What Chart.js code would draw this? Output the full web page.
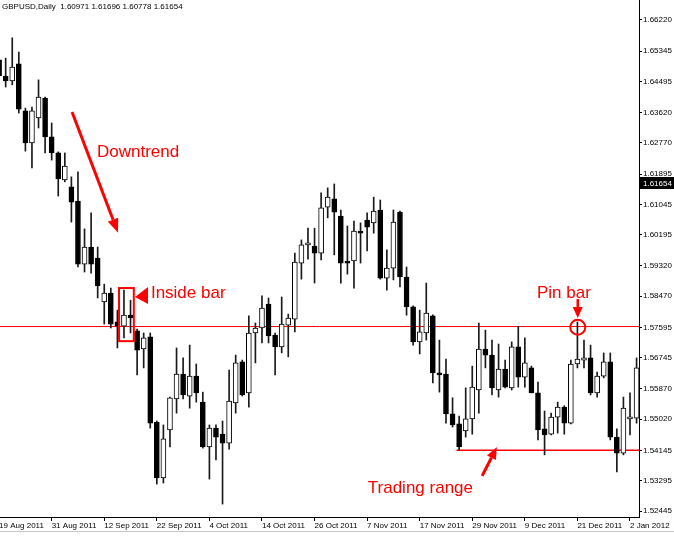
<!DOCTYPE html>
<html>
<head>
<meta charset="utf-8">
<title>GBPUSD Daily</title>
<script src="https://cdn.jsdelivr.net/npm/chart.js@4.4.1/dist/chart.umd.min.js"></script>
<style>
  html, body { margin: 0; padding: 0; background: #fff; }
  #wrap { width: 674px; height: 536px; }
</style>
</head>
<body>
<div id="wrap"><canvas id="chart" width="674" height="536"></canvas></div>
<script>
// header info
const symbol = 'GBPUSD';
const period = 'Daily';
const lastBar = ['1.60971', '1.61696', '1.60778', '1.61654'];
const lastPrice = 1.61654;

// daily bars, 19 Aug 2011 .. 3 Jan 2012
const opens = [
  1.6510, 1.6465, 1.6451, 1.6499, 1.6367, 1.6277, 1.6347, 1.6403, 1.6294, 1.6249,
  1.6173, 1.6154, 1.6114, 1.5937, 1.5985, 1.5954, 1.5831, 1.5856, 1.5775, 1.5763,
  1.5794, 1.5750, 1.5699, 1.5733, 1.5494, 1.5337, 1.5472, 1.5559, 1.5629, 1.5567,
  1.5623, 1.5550, 1.5424, 1.5477, 1.5460, 1.5435, 1.5548, 1.5663, 1.5576, 1.5744,
  1.5758, 1.5825, 1.5738, 1.5705, 1.5766, 1.5783, 1.5940, 1.5991, 1.5988, 1.5968,
  1.6097, 1.6120, 1.6072, 1.5946, 1.5946, 1.6030, 1.6061, 1.6053, 1.6089, 1.5898,
  1.5926, 1.6083, 1.5901, 1.5817, 1.5719, 1.5744, 1.5792, 1.5632, 1.5629, 1.5517,
  1.5489, 1.5469, 1.5503, 1.5584, 1.5699, 1.5682, 1.5584, 1.5643, 1.5590, 1.5705,
  1.5620, 1.5646, 1.5576, 1.5475, 1.5460, 1.5508, 1.5536, 1.5491, 1.5657, 1.5668,
  1.5674, 1.5576, 1.5623, 1.5663, 1.5452, 1.5407, 1.5503, 1.5505
];
const highs = [
  1.6521, 1.6515, 1.6572, 1.6532, 1.6375, 1.6378, 1.6454, 1.6406, 1.6333, 1.6252,
  1.6249, 1.6182, 1.6196, 1.6036, 1.6081, 1.5985, 1.5881, 1.5870, 1.5808, 1.5864,
  1.5836, 1.5755, 1.5744, 1.5744, 1.5497, 1.5486, 1.5564, 1.5702, 1.5674, 1.5710,
  1.5657, 1.5578, 1.5486, 1.5486, 1.5497, 1.5640, 1.5682, 1.5668, 1.5792, 1.5772,
  1.5848, 1.5842, 1.5744, 1.5845, 1.5797, 1.5968, 1.6005, 1.6038, 1.6038, 1.6137,
  1.6151, 1.6162, 1.6089, 1.6044, 1.6058, 1.6053, 1.6081, 1.6125, 1.6117, 1.5977,
  1.6089, 1.6086, 1.5929, 1.5820, 1.5808, 1.5884, 1.5795, 1.5724, 1.5671, 1.5562,
  1.5511, 1.5590, 1.5651, 1.5772, 1.5752, 1.5724, 1.5713, 1.5668, 1.5719, 1.5763,
  1.5730, 1.5651, 1.5606, 1.5525, 1.5519, 1.5550, 1.5540, 1.5668, 1.5775, 1.5724,
  1.5710, 1.5634, 1.5688, 1.5688, 1.5475, 1.5564, 1.5576, 1.5674
];
const lows = [
  1.6454, 1.6434, 1.6440, 1.6361, 1.6254, 1.6207, 1.6319, 1.6249, 1.6229, 1.6128,
  1.6168, 1.6055, 1.5929, 1.5915, 1.5912, 1.5842, 1.5769, 1.5758, 1.5702, 1.5730,
  1.5744, 1.5626, 1.5646, 1.5477, 1.5320, 1.5323, 1.5424, 1.5519, 1.5559, 1.5533,
  1.5550, 1.5421, 1.5334, 1.5388, 1.5264, 1.5418, 1.5519, 1.5567, 1.5536, 1.5660,
  1.5716, 1.5716, 1.5626, 1.5688, 1.5677, 1.5747, 1.5895, 1.5951, 1.5884, 1.5949,
  1.6067, 1.5963, 1.5884, 1.5909, 1.5870, 1.5940, 1.5974, 1.6024, 1.5895, 1.5864,
  1.5893, 1.5873, 1.5794, 1.5710, 1.5685, 1.5724, 1.5604, 1.5578, 1.5491, 1.5480,
  1.5416, 1.5452, 1.5460, 1.5519, 1.5646, 1.5570, 1.5564, 1.5590, 1.5584, 1.5592,
  1.5592, 1.5576, 1.5444, 1.5402, 1.5458, 1.5463, 1.5460, 1.5489, 1.5646, 1.5646,
  1.5570, 1.5564, 1.5618, 1.5444, 1.5354, 1.5402, 1.5458, 1.5491
];
const closes = [
  1.6465, 1.6451, 1.6490, 1.6372, 1.6277, 1.6367, 1.6406, 1.6294, 1.6249, 1.6176,
  1.6212, 1.6111, 1.5937, 1.5985, 1.5937, 1.5876, 1.5856, 1.5769, 1.5763, 1.5794,
  1.5786, 1.5696, 1.5730, 1.5491, 1.5337, 1.5447, 1.5562, 1.5629, 1.5570, 1.5623,
  1.5576, 1.5424, 1.5477, 1.5452, 1.5435, 1.5553, 1.5660, 1.5570, 1.5744, 1.5758,
  1.5814, 1.5736, 1.5705, 1.5769, 1.5786, 1.5943, 1.5991, 1.5996, 1.5968, 1.6095,
  1.6125, 1.6083, 1.5940, 1.5940, 1.6030, 1.6024, 1.6041, 1.6086, 1.5898, 1.5926,
  1.6055, 1.5901, 1.5817, 1.5719, 1.5747, 1.5800, 1.5632, 1.5626, 1.5517, 1.5486,
  1.5424, 1.5503, 1.5592, 1.5699, 1.5682, 1.5590, 1.5643, 1.5592, 1.5705, 1.5620,
  1.5660, 1.5576, 1.5472, 1.5458, 1.5508, 1.5536, 1.5491, 1.5657, 1.5671, 1.5674,
  1.5576, 1.5623, 1.5663, 1.5452, 1.5407, 1.5533, 1.5508, 1.5646
];

// time axis labels, one every 8 bars
const dateTickIdx = [0, 8, 16, 24, 32, 40, 48, 56, 64, 72, 80, 88, 96];
const dateLabels = ['19 Aug 2011', '31 Aug 2011', '12 Sep 2011', '22 Sep 2011', '4 Oct 2011',
  '14 Oct 2011', '26 Oct 2011', '7 Nov 2011', '17 Nov 2011', '29 Nov 2011', '9 Dec 2011',
  '21 Dec 2011', '2 Jan 2012'];

// price axis labels
const priceTicks = [1.66220, 1.65345, 1.64495, 1.63620, 1.62770, 1.61895, 1.61045, 1.60195,
  1.59320, 1.58470, 1.57595, 1.56745, 1.55870, 1.55020, 1.54145, 1.53295, 1.52445];

// horizontal levels drawn on the chart
const resistanceLevel = 1.5762;
const supportLevel = 1.5415;
const supportFrom = 69.6;

// visible window
const xMin = 0.137, xMax = 97.37;
const yMin = 1.52277, yMax = 1.66781;

const RED = '#ff0000';
const FONT = "'Liberation Sans', Arial, sans-serif";

Chart.defaults.font.family = FONT;
Chart.defaults.font.size = 8;
Chart.defaults.color = '#000';

const idx = opens.map((_, i) => i);
const wickData = idx.map(i => ({ x: i, y: [lows[i], highs[i]] }));
const bodyData = idx.map(i => ({ x: i, y: [Math.min(opens[i], closes[i]), Math.max(opens[i], closes[i])] }));
const bodyFill = idx.map(i => closes[i] >= opens[i] ? '#ffffff' : '#000000');

function arrow(ctx, x1, y1, x2, y2, w, headLen, headW) {
  const a = Math.atan2(y2 - y1, x2 - x1);
  const bx = x2 - Math.cos(a) * headLen, by = y2 - Math.sin(a) * headLen;
  ctx.lineWidth = w;
  ctx.beginPath();
  ctx.moveTo(x1, y1);
  ctx.lineTo(bx, by);
  ctx.stroke();
  const nx = -Math.sin(a) * headW / 2, ny = Math.cos(a) * headW / 2;
  ctx.beginPath();
  ctx.moveTo(x2, y2);
  ctx.lineTo(bx + nx, by + ny);
  ctx.lineTo(bx - nx, by - ny);
  ctx.closePath();
  ctx.fill();
}

// text, arrows and marks placed on top of the candles
const notes = {
  id: 'notes',
  afterDatasetsDraw(chart) {
    const { ctx, chartArea } = chart;
    const sx = v => chart.scales.x.getPixelForValue(v);
    const sy = v => chart.scales.y.getPixelForValue(v);
    ctx.save();
    ctx.strokeStyle = RED;
    ctx.fillStyle = RED;
    ctx.lineCap = 'butt';

    // downtrend
    arrow(ctx, sx(11.1), sy(1.6364), sx(18.1), sy(1.6025), 3, 14, 11);
    ctx.font = '17px ' + FONT;
    ctx.textBaseline = 'alphabetic';
    ctx.fillText('Downtrend', sx(14.9), sy(1.6238));

    // inside bar
    ctx.lineWidth = 2;
    ctx.strokeRect(sx(18.25), sy(1.5870), sx(20.5) - sx(18.25), sy(1.5721) - sy(1.5870));
    ctx.beginPath();
    ctx.moveTo(sx(20.68), sy(1.5845));
    ctx.lineTo(sx(22.66), sy(1.5873));
    ctx.lineTo(sx(22.66), sy(1.5825));
    ctx.closePath();
    ctx.fill();
    ctx.fillText('Inside bar', sx(23.1), sy(1.5842));

    // pin bar
    ctx.fillText('Pin bar', sx(81.85), sy(1.5842));
    arrow(ctx, sx(88.05), sy(1.5839), sx(88.05), sy(1.5786), 2.5, 11, 10);
    ctx.lineWidth = 2;
    ctx.beginPath();
    ctx.arc(sx(88.05), sy(1.5760), 7.5, 0, Math.PI * 2);
    ctx.stroke();

    // trading range
    ctx.fillText('Trading range', sx(56.1), sy(1.5295));
    arrow(ctx, sx(73.5), sy(1.5343), sx(75.75), sy(1.5424), 3, 12, 10);

    // header
    ctx.fillStyle = '#000';
    ctx.font = '8px ' + FONT;
    ctx.textBaseline = 'alphabetic';
    ctx.fillText(symbol + ',' + period + '  ' + lastBar.join(' '), 2, 9);

    // current price box on the axis
    const py = Math.round(sy(lastPrice));
    ctx.fillRect(chartArea.right + 1, py - 6, chart.width - chartArea.right - 1, 12);
    ctx.fillStyle = '#fff';
    ctx.textBaseline = 'middle';
    ctx.fillText(lastPrice.toFixed(5), chartArea.right + 4, py + 0.5);

    // bottom frame line
    ctx.strokeStyle = '#c8c8c8';
    ctx.lineWidth = 1;
    ctx.beginPath();
    ctx.moveTo(0, chart.height - 4.5);
    ctx.lineTo(chart.width, chart.height - 4.5);
    ctx.stroke();
    ctx.restore();
  }
};

const ctx = document.getElementById('chart').getContext('2d');
new Chart(ctx, {
  type: 'bar',
  data: {
    datasets: [
      {
        label: 'Bodies',
        data: bodyData,
        backgroundColor: bodyFill,
        borderColor: '#000',
        borderWidth: 1,
        borderSkipped: false,
        barThickness: 5,
        minBarLength: 2,
        grouped: false,
        order: 1
      },
      {
        label: 'Wicks',
        data: wickData,
        backgroundColor: '#1a1a1a',
        borderWidth: 0,
        barThickness: 1,
        grouped: false,
        order: 2
      },
      {
        type: 'line',
        label: 'Resistance',
        data: [{ x: xMin, y: resistanceLevel }, { x: xMax, y: resistanceLevel }],
        borderColor: RED,
        borderWidth: 1,
        pointRadius: 0,
        order: 3
      },
      {
        type: 'line',
        label: 'Support',
        data: [{ x: supportFrom, y: supportLevel }, { x: xMax, y: supportLevel }],
        borderColor: RED,
        borderWidth: 1.5,
        pointRadius: 0,
        order: 3
      }
    ]
  },
  options: {
    responsive: false,
    animation: false,
    devicePixelRatio: 1,
    layout: { padding: 0 },
    plugins: {
      legend: { display: false },
      tooltip: { enabled: false }
    },
    scales: {
      x: {
        type: 'linear',
        min: xMin,
        max: xMax,
        offset: false,
        grid: { drawOnChartArea: false, offset: false, tickLength: 4, color: '#000' },
        border: { color: '#000' },
        afterBuildTicks: s => { s.ticks = dateTickIdx.map(v => ({ value: v })); },
        afterFit: s => { s.height = 19; s.paddingLeft = 0; s.paddingRight = 0; },
        ticks: {
          autoSkip: false,
          maxRotation: 0,
          align: 'start',
          padding: 0,
          callback: (v, i) => dateLabels[i]
        }
      },
      y: {
        type: 'linear',
        position: 'right',
        min: yMin,
        max: yMax,
        grid: { drawOnChartArea: false, tickLength: 3, color: '#000' },
        border: { color: '#000' },
        afterBuildTicks: s => { s.ticks = priceTicks.map(v => ({ value: v })); },
        afterFit: s => { s.width = 35; s.paddingTop = 0; s.paddingBottom = 0; },
        ticks: {
          padding: 1,
          callback: v => v.toFixed(5)
        }
      }
    }
  },
  plugins: [notes]
});
</script>
</body>
</html>
